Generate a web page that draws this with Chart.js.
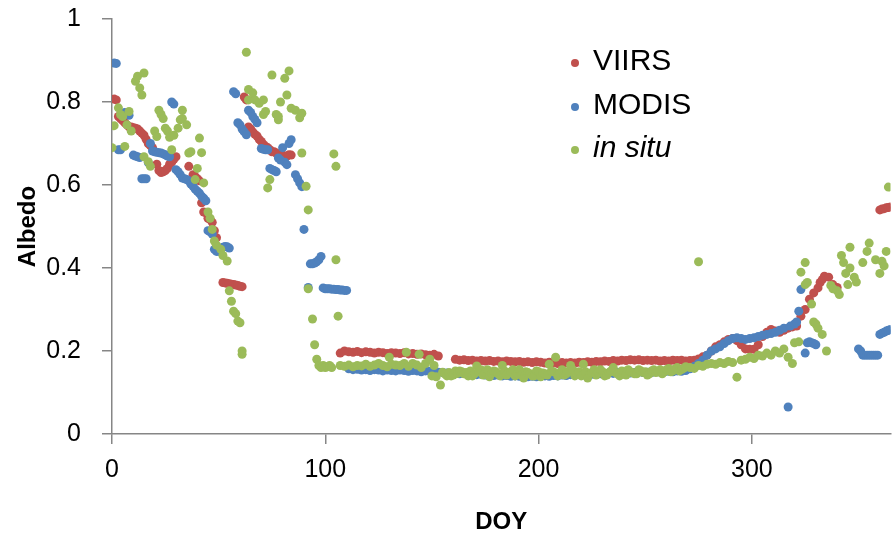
<!DOCTYPE html>
<html>
<head>
<meta charset="utf-8">
<script src="https://cdn.jsdelivr.net/npm/chart.js@4"></script>
<style>
html,body{margin:0;padding:0;background:#fff;}
#wrap{width:895px;height:535px;}
</style>
</head>
<body>
<div id="wrap"><canvas id="c" width="895" height="535"></canvas></div>
<script>
// ---------- data (DOY, albedo) ----------
const seriesNames = ["VIIRS", "MODIS", "in situ"];
const xTickValues = [0, 100, 200, 300];
const yTickValues = [0, 0.2, 0.4, 0.6, 0.8, 1];

const viirs = [
[1,0.807],[2,0.805],[3,0.765],[4,0.76],[5,0.755],[6,0.75],[7,0.745],[8,0.74],[9,0.74],[10,0.738],[11,0.737],[12,0.735],[13,0.73],[14,0.725],[15,0.72],[16,0.71],[17,0.70],[18,0.695],[19,0.69],
[21,0.65],[22,0.635],[23,0.63],[24,0.632],[25,0.635],[26,0.64],[27,0.65],[28,0.655],[29,0.662],[30,0.668],[36,0.645],[38,0.625],[39,0.62],[40,0.615],[41,0.61],[42,0.557],[43,0.535],[44,0.533],[45,0.52],[46,0.517],[47,0.51],[48,0.49],[49,0.473],
[52,0.365],[53,0.364],[54,0.363],[55,0.362],[56,0.361],[57,0.36],[58,0.359],[59,0.358],[60,0.356],[61,0.355],
[62,0.812],[63,0.805],[64,0.74],[65,0.735],[66,0.728],[67,0.722],[68,0.718],[69,0.71],[70,0.705],[71,0.698],[72,0.693],[73,0.69],[74,0.685],[75,0.68],[76,0.68],[77,0.677],[78,0.675],[80,0.672],[82,0.67],[83,0.673],[84,0.672],
[107,0.195],[109,0.2],[111,0.198],[113,0.197],[115,0.199],[117,0.196],[119,0.198],[121,0.197],[123,0.195],[125,0.197],[127,0.196],[129,0.194],[131,0.196],[133,0.195],[135,0.194],[137,0.196],[139,0.193],[141,0.194],[143,0.192],[145,0.193],[147,0.191],[149,0.19],[151,0.192],[153,0.188],
[161,0.18],[163,0.178],[165,0.179],[167,0.177],[169,0.178],[171,0.176],[173,0.177],[175,0.176],[177,0.177],[179,0.175],[181,0.176],[183,0.174],[185,0.176],[187,0.175],[189,0.174],[191,0.175],[193,0.173],[195,0.174],[197,0.172],[199,0.174],[201,0.173],[203,0.171],[205,0.173],[207,0.172],[209,0.17],[211,0.172],[213,0.171],[215,0.172],[217,0.171],[219,0.173],[221,0.172],[223,0.174],[225,0.173],[227,0.175],[229,0.174],[231,0.176],[233,0.175],[235,0.177],[237,0.176],[239,0.178],[241,0.177],[243,0.179],[245,0.178],[247,0.179],[249,0.177],[251,0.178],[253,0.177],[255,0.178],[257,0.176],[259,0.177],[261,0.176],[263,0.178],[265,0.177],[267,0.178],[269,0.176],[271,0.177],[273,0.178],[275,0.181],
[277,0.186],[279,0.19],[281,0.2],[283,0.21],[285,0.215],[287,0.222],[289,0.228],[291,0.23],[293,0.225],[295,0.215],[297,0.205],[299,0.204],[301,0.204],[303,0.215],[305,0.235],[307,0.245],[309,0.252],[311,0.248],[313,0.245],[315,0.25],[317,0.255],[319,0.258],[321,0.26],[323,0.284],[325,0.3],[327,0.325],[329,0.34],[331,0.352],[332,0.365],[333,0.372],[334,0.38],[336,0.378],[338,0.36],[340,0.353],
[360,0.54],[361,0.542],[362,0.543],[363,0.545],[364,0.546],[365,0.547]
];

const modis = [
[1,0.894],[2,0.893],[3,0.685],[4,0.685],[6,0.775],[7,0.772],[8,0.768],[10,0.672],[11,0.67],[12,0.668],[13,0.666],[14,0.615],[15,0.615],[16,0.615],[17,0.654],[18,0.70],[19,0.682],[20,0.68],[21,0.679],[22,0.678],[23,0.677],[24,0.675],[25,0.673],[26,0.67],[27,0.668],[28,0.80],[29,0.795],
[30,0.637],[31,0.632],[32,0.625],[33,0.617],[34,0.615],[35,0.613],[36,0.61],[37,0.602],[38,0.597],[39,0.59],[40,0.585],[41,0.58],[42,0.573],[43,0.568],[44,0.562],[45,0.49],[46,0.487],[47,0.482],[48,0.445],[49,0.44],[50,0.44],[51,0.445],[52,0.45],[53,0.452],[54,0.451],[55,0.448],
[57,0.825],[58,0.82],[59,0.75],[60,0.745],[61,0.735],[62,0.728],[63,0.721],[64,0.78],[65,0.775],[66,0.765],[67,0.758],[68,0.75],[70,0.688],[71,0.686],[72,0.685],[73,0.685],[74,0.64],[75,0.637],[76,0.635],[77,0.632],[78,0.665],[79,0.66],[80,0.69],[81,0.655],[82,0.649],[83,0.70],[84,0.709],[86,0.625],[87,0.615],[88,0.605],[89,0.596],[90,0.493],
[92,0.353],[93,0.41],[94,0.41],[95,0.412],[96,0.415],[97,0.42],[98,0.428],[99,0.352],[100,0.35],[101,0.35],[102,0.35],[103,0.349],[104,0.349],[105,0.348],[106,0.348],[107,0.347],[108,0.347],[109,0.346],[110,0.346],
[111,0.157],[113,0.155],[115,0.156],[117,0.154],[119,0.155],[121,0.153],[123,0.155],[125,0.154],[127,0.152],[129,0.154],[131,0.153],[133,0.152],[135,0.154],[137,0.153],[139,0.151],[141,0.153],[143,0.152],[145,0.15],[147,0.152],[149,0.151],[151,0.15],[153,0.149],
[155,0.148],[157,0.147],[159,0.146],[161,0.147],[163,0.145],[165,0.146],[167,0.144],[169,0.145],[171,0.143],[173,0.144],[175,0.142],[177,0.143],[179,0.141],[181,0.142],[183,0.14],[185,0.141],[187,0.139],[189,0.14],[191,0.139],[193,0.14],[195,0.138],[197,0.139],[199,0.138],[201,0.139],[203,0.14],[205,0.139],[207,0.141],[209,0.14],[211,0.142],[213,0.141],[215,0.143],[217,0.142],[219,0.144],[221,0.143],[223,0.145],[225,0.144],[227,0.146],[229,0.145],[231,0.146],[233,0.147],[235,0.146],[237,0.148],[239,0.147],[241,0.148],[243,0.147],[245,0.148],[247,0.149],[249,0.148],[251,0.149],[253,0.148],[255,0.15],[257,0.149],[259,0.15],[261,0.151],[263,0.15],[265,0.152],[267,0.151],[269,0.153],
[271,0.157],[273,0.163],[275,0.17],[277,0.178],[279,0.19],[281,0.2],[283,0.205],[285,0.21],[287,0.218],[289,0.225],[291,0.23],[293,0.232],[295,0.23],[297,0.228],[299,0.23],[301,0.232],[303,0.235],[305,0.238],[307,0.24],[309,0.242],[311,0.245],[313,0.25],[315,0.255],[317,0.065],[318,0.26],[320,0.265],[321,0.27],[322,0.296],[323,0.348],
[325,0.195],[326,0.22],[327,0.222],[328,0.22],[329,0.218],[330,0.215],
[350,0.205],[351,0.2],[352,0.19],[353,0.19],[354,0.19],[355,0.19],[356,0.19],[357,0.19],[358,0.19],[359,0.19],
[360,0.24],[361,0.243],[362,0.245],[363,0.248],[364,0.25],[365,0.252]
];

const insitu = [
[0,0.69],[1,0.743],[3,0.786],[4,0.77],[5,0.765],[6,0.693],[7,0.745],[8,0.777],[9,0.73],[11,0.85],[12,0.862],[13,0.834],[14,0.817],[15,0.87],[15,0.668],[17,0.656],[18,0.645],[20,0.73],[21,0.717],[22,0.78],[23,0.77],[24,0.76],[25,0.737],[26,0.73],[27,0.715],[28,0.685],[29,0.72],[31,0.737],[32,0.757],[33,0.76],[33,0.78],[35,0.745],[36,0.677],[37,0.68],[39,0.613],[40,0.64],[41,0.713],[42,0.678],[43,0.605],[45,0.535],[46,0.52],[47,0.493],[48,0.465],[49,0.455],[51,0.445],[52,0.43],[54,0.417],[55,0.345],[56,0.32],[57,0.296],[58,0.29],[59,0.272],[60,0.268],[61,0.2],[61,0.192],
[63,0.92],[64,0.805],[64,0.83],[66,0.822],[67,0.805],[69,0.797],[71,0.805],[71,0.77],[72,0.777],[73,0.593],[74,0.613],[75,0.865],[77,0.77],[78,0.757],[78,0.765],[79,0.8],[81,0.857],[82,0.817],[83,0.875],[84,0.785],[86,0.78],[88,0.762],[89,0.773],[89,0.677],[91,0.597],[92,0.54],
[92,0.35],[94,0.277],[95,0.215],[96,0.18],[97,0.165],[98,0.16],[99,0.165],[100,0.16],[101,0.162],[102,0.165],[103,0.16],[104,0.675],[105,0.645],[105,0.42],[106,0.284],
[107,0.165],[109,0.163],[111,0.166],[113,0.162],[115,0.165],[117,0.164],[119,0.168],[121,0.163],[123,0.166],[125,0.17],[127,0.165],[129,0.162],[130,0.185],[131,0.168],[133,0.166],[135,0.165],[137,0.17],[138,0.197],[139,0.163],[141,0.17],[143,0.166],[144,0.192],[145,0.16],[147,0.17],[149,0.18],[150,0.14],[151,0.165],[152,0.138],[154,0.118],[155,0.149],
[156,0.145],[157,0.14],[158,0.148],[159,0.14],[160,0.142],[161,0.152],[162,0.146],[163,0.152],[164,0.15],[165,0.145],[166,0.148],[167,0.14],[168,0.152],[169,0.14],[170,0.145],[171,0.164],[172,0.15],[173,0.155],[174,0.142],[175,0.148],[176,0.155],[177,0.138],[178,0.146],[179,0.152],[180,0.15],[181,0.145],[182,0.14],[183,0.165],[184,0.152],[185,0.142],[186,0.147],[187,0.15],[188,0.155],[189,0.14],[190,0.145],[191,0.155],[192,0.142],[193,0.135],[194,0.15],[195,0.148],[196,0.145],[197,0.14],[198,0.14],[199,0.152],[200,0.15],[201,0.138],[202,0.147],[203,0.145],[204,0.142],[205,0.168],[206,0.152],[207,0.15],[208,0.185],[209,0.14],[210,0.148],[211,0.155],[212,0.142],[213,0.145],[214,0.15],[215,0.165],[216,0.155],[217,0.14],[218,0.145],[219,0.15],[220,0.14],[221,0.168],[222,0.15],[223,0.135],[224,0.145],[225,0.148],[226,0.155],[227,0.142],[228,0.148],[229,0.155],[230,0.15],[231,0.14],[232,0.142],[233,0.148],[234,0.152],[235,0.16],[236,0.148],[237,0.145],[238,0.14],[239,0.152],[240,0.15],[241,0.142],[242,0.155],[243,0.15],[244,0.148],[245,0.145],[246,0.145],[247,0.155],[248,0.152],[249,0.148],[250,0.15],[251,0.142],[252,0.145],[253,0.152],[254,0.155],[255,0.148],[256,0.15],[257,0.155],[258,0.145],[259,0.15],[260,0.155],[261,0.158],[262,0.15],[263,0.152],[264,0.157],[265,0.16],[266,0.152],[267,0.155],[268,0.158],[269,0.162],
[271,0.16],[273,0.158],[275,0.415],[275,0.165],[277,0.163],[279,0.168],[281,0.17],[283,0.168],[285,0.172],[287,0.17],[289,0.175],[291,0.172],[293,0.137],[295,0.178],[297,0.18],[299,0.185],[301,0.182],[303,0.19],[305,0.188],[307,0.195],[309,0.19],[311,0.2],[313,0.195],[315,0.205],[317,0.185],[319,0.17],[320,0.22],[322,0.222],
[323,0.39],[325,0.413],[325,0.36],[326,0.365],[328,0.313],[329,0.27],[330,0.265],[331,0.255],[333,0.24],[335,0.2],[337,0.358],[338,0.35],[340,0.345],[341,0.336],[342,0.43],[343,0.413],[344,0.387],[345,0.36],[346,0.4],[346,0.45],[348,0.378],[349,0.366],[352,0.413],[354,0.44],[355,0.46],[358,0.42],[360,0.387],[361,0.416],[362,0.405],[363,0.44],[364,0.595]
];

const colors = ["#C0504D", "#4F81BD", "#9BBB59"];
const FONT = "'Liberation Sans', Arial, sans-serif";

function toPoints(arr){ return arr.map(p => ({x: p[0], y: p[1]})); }

const legendPlugin = {
  id: 'insideLegend',
  afterDraw(chart){
    const ctx = chart.ctx;
    const rows = [63, 107, 150];
    ctx.save();
    seriesNames.forEach((name, i) => {
      ctx.fillStyle = colors[i];
      ctx.beginPath();
      ctx.arc(575, rows[i], 4, 0, Math.PI*2);
      ctx.fill();
      ctx.fillStyle = '#000';
      ctx.font = (i === 2 ? 'italic ' : '') + '30px ' + FONT;
      ctx.textBaseline = 'middle';
      ctx.textAlign = 'left';
      ctx.fillText(name, 593, rows[i] - 1);
    });
    ctx.restore();
  }
};

const mk = (label, data, i, order) => ({
  label, data: toPoints(data), order,
  backgroundColor: colors[i], borderColor: colors[i], borderWidth: 0,
  pointRadius: 4.5, pointHoverRadius: 4.5
});

new Chart(document.getElementById('c'), {
  type: 'scatter',
  data: {
    datasets: [
      mk(seriesNames[0], viirs, 0, 2),
      mk(seriesNames[1], modis, 1, 1),
      mk(seriesNames[2], insitu, 2, 0)
    ]
  },
  options: {
    responsive: false,
    animation: false,
    devicePixelRatio: 1,
    layout: { padding: { top: 19, right: 2, left: 0, bottom: 0 } },
    plugins: { legend: { display: false }, tooltip: { enabled: false } },
    scales: {
      x: {
        type: 'linear', min: 0, max: 365,
        afterFit(s){ s.height = 101; s.paddingLeft = 0; s.paddingRight = 0; },
        afterBuildTicks(s){ s.ticks = xTickValues.map(v => ({value: v})); },
        ticks: { font: { family: FONT, size: 25 }, color: '#000', padding: 11, maxRotation: 0 },
        grid: { display: true, drawOnChartArea: false, drawTicks: true, tickLength: 10, color: '#868686', lineWidth: 1.5 },
        border: { display: true, color: '#868686', width: 1.5 },
        title: { display: true, text: 'DOY', color: '#000', font: { family: FONT, size: 24, weight: 'bold', lineHeight: 1 }, padding: { top: 0, bottom: 1 } }
      },
      y: {
        type: 'linear', min: 0, max: 1,
        afterFit(s){ s.width = 112; s.paddingTop = 0; s.paddingBottom = 0; },
        afterBuildTicks(s){ s.ticks = yTickValues.map(v => ({value: v})); },
        ticks: { font: { family: FONT, size: 25 }, color: '#000', padding: 21,
                 callback: v => String(Number(v.toFixed(1))) },
        grid: { display: true, drawOnChartArea: false, drawTicks: true, tickLength: 10, color: '#868686', lineWidth: 1.5 },
        border: { display: true, color: '#868686', width: 1.5 },
        title: { display: true, text: 'Albedo', color: '#000', font: { family: FONT, size: 24, weight: 'bold', lineHeight: 1 }, padding: { top: 16, bottom: 0 } }
      }
    }
  },
  plugins: [legendPlugin]
});
</script>
</body>
</html>
